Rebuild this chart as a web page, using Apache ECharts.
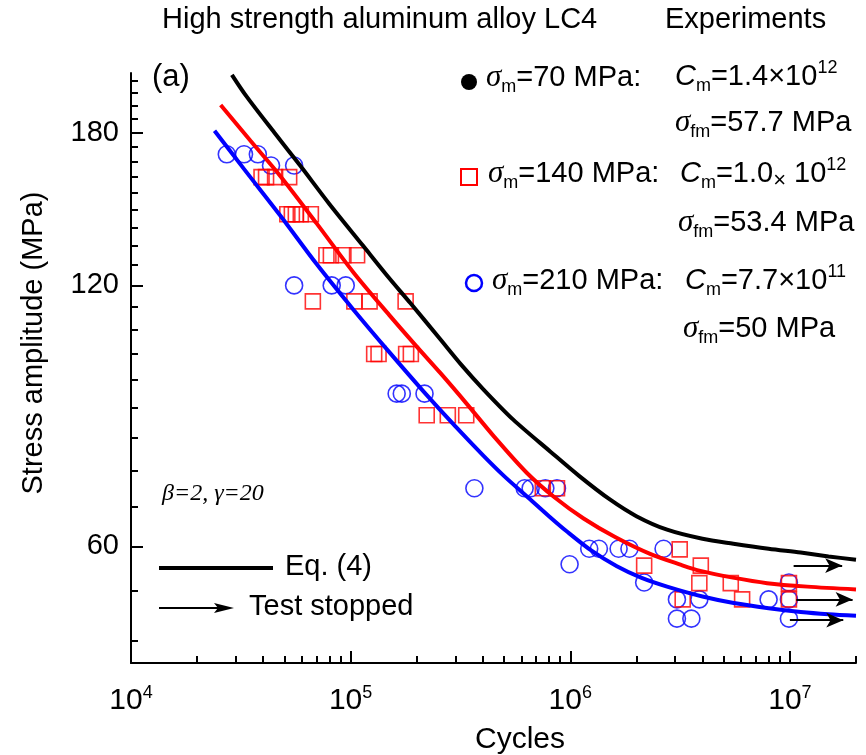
<!DOCTYPE html>
<html><head><meta charset="utf-8">
<script src="https://cdn.jsdelivr.net/npm/echarts@6/dist/echarts.min.js"></script>
<style>html,body{margin:0;padding:0;background:#fff}#c{width:866px;height:755px}</style>
</head><body><div id="c"></div>
<script>
// ---- tick values ----
const xTicks = [1e4, 1e5, 1e6, 1e7];
const xMinorTicks = [2e4,3e4,4e4,5e4,6e4,7e4,8e4,9e4,2e5,3e5,4e5,5e5,6e5,7e5,8e5,9e5,2e6,3e6,4e6,5e6,6e6,7e6,8e6,9e6,2e7];
const yTicks = [60, 120, 180];
const yMinorTicks = [46.67,53.33,66.67,73.33,80,86.67,93.33,100,106.67,113.33,126.67,133.33,140,146.67,153.33,160,166.67,173.33,186.67,193.33,200,206.67];

// ---- model curves (Eq. 4) [cycles, stress MPa] ----
const curve70 = [[2.88e4,210],[3.37e4,198],[4.5e4,180],[5.89e4,165],[8e4,149],[1.14e5,133.3],[1.5e5,122.3],[1.87e5,114.5],[2.56e5,104],[3.2e5,97.1],[4.03e5,91],[5.5e5,84],[8.1e5,77.2],[1.1e6,72.3],[1.52e6,67.9],[2e6,65],[2.76e6,62.7],[4e6,61.2],[5.53e6,60.4],[8e6,59.6],[1.12e7,59],[1.5e7,58.4],[2e7,57.9]];
const curve140 = [[2.56e4,193.8],[3.5e4,176.2],[4.78e4,160.5],[7e4,141.5],[1.03e5,124.2],[1.5e5,110.9],[2e5,102],[2.56e5,95.1],[3.38e5,87.6],[4.5e5,80.3],[6.35e5,72.9],[8.5e5,68.3],[1.15e6,64.6],[1.6e6,61.5],[2.31e6,58.8],[3.2e6,57.1],[3.91e6,56.2],[5.5e6,55.2],[7.87e6,54.4],[1.2e7,53.9],[2e7,53.5]];
const curve210 = [[2.4e4,181],[3.3e4,163],[4.78e4,144.5],[7e4,127],[1.03e5,112.5],[1.5e5,100.5],[2.15e5,90.5],[3e5,82.5],[4.03e5,76.3],[5e5,72.3],[6.35e5,68.5],[8e5,65],[9.66e5,62.4],[1.25e6,59.3],[1.63e6,56.9],[2.1e6,55.2],[2.76e6,53.9],[4e6,52.5],[5.55e6,51.6],[8e6,50.9],[1.12e7,50.4],[1.5e7,50.1],[2e7,49.9]];

// ---- experiments [cycles, stress MPa] ----
const exp140 = [[3.93e4,160],[4.12e4,160],[4.53e4,160],[5.25e4,160],
  [5.15e4,145],[5.4e4,145],[5.63e4,145],[5.93e4,145],[6.59e4,145],
  [7.76e4,130],[8.13e4,130],[9.27e4,130],[1.07e5,130],
  [6.73e4,115],[1.04e5,115],[1.22e5,115],[1.78e5,115],
  [1.28e5,100],[1.34e5,100],[1.79e5,100],[1.88e5,100],
  [2.22e5,85],[2.77e5,85],[3.36e5,85],
  [7.5e5,70],[8.7e5,70],
  [3.15e6,59.5],[2.17e6,57],[3.93e6,57],[3.87e6,54.4],[5.38e6,54.4],[6.06e6,52.1],[3.25e6,52.1],[9.9e6,54.4],[9.9e6,52.1]];
const exp210 = [[2.73e4,170],[3.27e4,170],[3.78e4,170],[4.34e4,165],[5.53e4,165],
  [5.53e4,120],[8.2e4,120],[9.5e4,120],
  [1.62e5,90],[1.71e5,90],[2.17e5,90],
  [3.66e5,70],[6.2e5,70],[6.6e5,70],[7.7e5,70],[8.7e5,70],
  [9.93e5,57.2],[1.22e6,59.6],[1.35e6,59.6],[1.66e6,59.6],[1.86e6,59.6],[2.17e6,54.5],[2.66e6,59.6],
  [3.06e6,52.1],[3.87e6,52.1],[3.06e6,49.5],[3.56e6,49.5],[8.0e6,52.1],[9.9e6,54.5],[9.9e6,52.1],[9.9e6,49.5]];
// test stopped arrows [from cycles, to cycles, stress]
const arrowsStopped = [[1.04e7,1.73e7,57.0],[1.07e7,1.93e7,52.1],[1.0e7,1.75e7,49.3]];

const SANS = 'Liberation Sans', SERIF = 'Liberation Serif';
const chart = echarts.init(document.getElementById('c'), null, {renderer:'canvas'});

const xBase = {type:'log', logBase:10, min:1e4, max:2e7, position:'bottom', gridIndex:0,
  splitLine:{show:false}, minorTick:{show:false}, axisPointer:{show:false}};
const yBase = {type:'log', logBase:10, min:44, max:211, position:'left', gridIndex:0,
  splitLine:{show:false}, minorTick:{show:false}};

const rich = {
  g:{fontFamily:SERIF, fontStyle:'italic', fontSize:31, lineHeight:36, color:'#000'},
  sub:{fontFamily:SANS, fontSize:18, lineHeight:14, verticalAlign:'bottom', color:'#000'},
  sup:{fontFamily:SANS, fontSize:18, lineHeight:14, verticalAlign:'top', color:'#000'},
  t:{fontFamily:SANS, fontSize:29, lineHeight:36, color:'#000'},
  ci:{fontFamily:SANS, fontStyle:'italic', fontSize:29, lineHeight:36, color:'#000'},
  xs:{fontFamily:SANS, fontSize:22, lineHeight:22, verticalAlign:'bottom', color:'#000'}
};
function txt(x, y, text) {
  return {type:'text', x:x, y:y, silent:true, z:100,
    style:{text:text, rich:rich, fontFamily:SANS, fontSize:29, fill:'#000',
      align:'left', verticalAlign:'middle', textAlign:'left', textVerticalAlign:'middle'}};
}
function lineSeries(name, data, color) {
  return {type:'line', name:name, data:data, showSymbol:false, smooth:0.3,
    z:3, silent:true, lineStyle:{color:color, width:4}};
}

const s70 = lineSeries('Eq. (4) σm=70 MPa', curve70, '#000');
s70.markLine = {silent:true, symbol:['none','arrow'], symbolSize:[11,17], label:{show:false},
  lineStyle:{color:'#000', width:2, type:'solid'},
  data: arrowsStopped.map(a => [{coord:[a[0], a[2]]}, {coord:[a[1], a[2]]}])};

const option = {
  animation:false,
  backgroundColor:'#fff',
  grid:{left:131, right:10, top:73, bottom:92, containLabel:false},
  xAxis:[
    Object.assign({}, xBase, {
      axisLine:{show:true, onZero:false, lineStyle:{color:'#000', width:2}},
      axisTick:{show:true, inside:true, length:12, lineStyle:{color:'#000', width:2}, customValues:xTicks},
      axisLabel:{show:true, customValues:xTicks, margin:21,
        formatter:function(v){ return '{b|10}{s|' + Math.round(Math.log10(v)) + '}'; },
        rich:{b:{fontFamily:SANS, fontSize:30, lineHeight:34, color:'#000'},
              s:{fontFamily:SANS, fontSize:18, lineHeight:16, verticalAlign:'top', color:'#000'}}}
    }),
    Object.assign({}, xBase, {
      axisLine:{show:false, onZero:false},
      axisTick:{show:true, inside:true, length:7, lineStyle:{color:'#000', width:2}, customValues:xMinorTicks},
      axisLabel:{show:false}
    })
  ],
  yAxis:[
    Object.assign({}, yBase, {
      axisLine:{show:true, onZero:false, lineStyle:{color:'#000', width:2}},
      axisTick:{show:true, inside:true, length:12, lineStyle:{color:'#000', width:2}, customValues:yTicks},
      axisLabel:{show:true, customValues:yTicks, margin:12, fontFamily:SANS, fontSize:29, color:'#000'}
    }),
    Object.assign({}, yBase, {
      axisLine:{show:false, onZero:false},
      axisTick:{show:true, inside:true, length:7, lineStyle:{color:'#000', width:2}, customValues:yMinorTicks},
      axisLabel:{show:false}
    })
  ],
  series:[
    {type:'scatter', name:'σm=210 MPa', data:exp210, symbol:'circle', symbolSize:17, z:2,
      itemStyle:{color:'rgba(0,0,0,0)', borderColor:'#0000ff', borderWidth:1.6}, silent:true},
    {type:'scatter', name:'σm=140 MPa', data:exp140, symbol:'rect', symbolSize:15, z:2,
      itemStyle:{color:'rgba(0,0,0,0)', borderColor:'#ff0000', borderWidth:1.6}, silent:true},
    s70,
    lineSeries('Eq. (4) σm=140 MPa', curve140, '#ff0000'),
    lineSeries('Eq. (4) σm=210 MPa', curve210, '#0000ff')
  ],
  graphic:[
    txt(162, 20, 'High strength aluminum alloy LC4'),
    txt(665, 20, 'Experiments'),
    {type:'text', x:152, y:77, silent:true, z:100, style:{text:'(a)', fontFamily:SANS, fontSize:31, fill:'#000', align:'left', verticalAlign:'middle', textAlign:'left', textVerticalAlign:'middle'}},
    {type:'circle', shape:{cx:469, cy:82, r:8}, style:{fill:'#000'}, silent:true, z:100},
    txt(486, 78, '{g|σ}{sub|m}{t|=70 MPa:}'),
    txt(675, 77, '{ci|C}{sub|m}{t|=1.4×10}{sup|12}'),
    txt(675, 123, '{g|σ}{sub|fm}{t|=57.7 MPa}'),
    {type:'rect', shape:{x:461, y:169, width:16, height:16}, style:{fill:'none', stroke:'#ff0000', lineWidth:2}, silent:true, z:100},
    txt(488, 174, '{g|σ}{sub|m}{t|=140 MPa:}'),
    txt(680, 174, '{ci|C}{sub|m}{t|=1.0}{xs|×}{t| 10}{sup|12}'),
    txt(678, 223, '{g|σ}{sub|fm}{t|=53.4 MPa}'),
    {type:'circle', shape:{cx:474, cy:283, r:8}, style:{fill:'none', stroke:'#0000ff', lineWidth:2.5}, silent:true, z:100},
    txt(492, 281, '{g|σ}{sub|m}{t|=210 MPa:}'),
    txt(685, 281, '{ci|C}{sub|m}{t|=7.7×10}{sup|11}'),
    txt(683, 329, '{g|σ}{sub|fm}{t|=50 MPa}'),
    {type:'text', x:162, y:494, silent:true, z:100, style:{text:'β=2, γ=20', fontFamily:SERIF, fontStyle:'italic', fontSize:24, fill:'#000', align:'left', verticalAlign:'middle', textAlign:'left', textVerticalAlign:'middle'}},
    {type:'line', shape:{x1:159, y1:568, x2:273, y2:568}, style:{stroke:'#000', lineWidth:4}, silent:true, z:100},
    txt(285, 567, 'Eq. (4)'),
    {type:'line', shape:{x1:159, y1:608, x2:222, y2:608}, style:{stroke:'#000', lineWidth:2}, silent:true, z:100},
    {type:'polygon', shape:{points:[[214,603],[234,608],[214,613],[218,608]]}, style:{fill:'#000'}, silent:true, z:100},
    txt(249, 607, 'Test stopped'),
    {type:'text', x:34, y:343, rotation:Math.PI/2, silent:true, z:100, style:{text:'Stress amplitude (MPa)', fontFamily:SANS, fontSize:29, fill:'#000', align:'center', verticalAlign:'middle', textAlign:'center', textVerticalAlign:'middle'}},
    {type:'text', x:520, y:740, silent:true, z:100, style:{text:'Cycles', fontFamily:SANS, fontSize:30, fill:'#000', align:'center', verticalAlign:'middle', textAlign:'center', textVerticalAlign:'middle'}}
  ]
};
chart.setOption(option);
</script></body></html>
